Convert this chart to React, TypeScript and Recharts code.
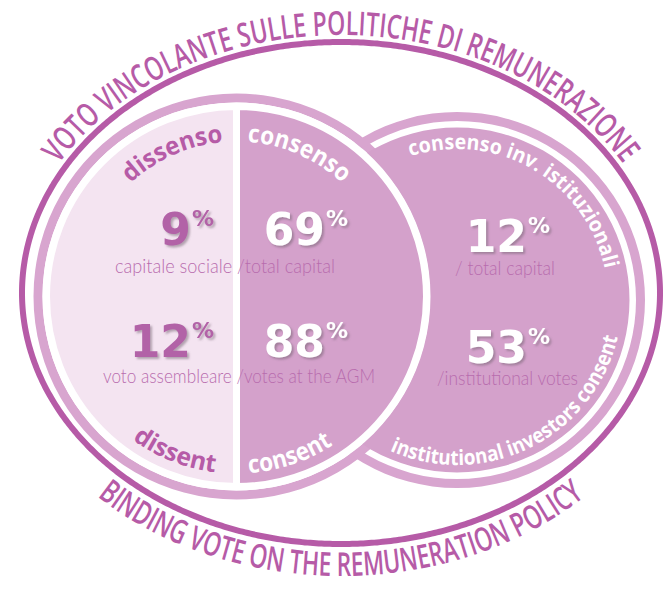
import React from "react";
import { PieChart, Pie, Cell } from "recharts";

// ---- data ----
const halves = [
  { name: "dissenso", value: 1 },
  { name: "consenso", value: 1 },
];
const whole = [{ name: "all", value: 1 }];

const dissentPct = [9, 12];
const consentPct = [69, 88];
const institutionalPct = [12, 53];
const rowLabels = ["capitale sociale /total capital", "voto assembleare /votes at the AGM"];
const institutionalLabels = ["/ total capital", "/institutional votes"];
const leftTop = ["dissenso", "consenso"];
const leftBottom = ["dissent", "consent"];
const rightTop = "consenso inv. istituzionali";
const rightBottom = "institutional investors consent";
const titleTop = "VOTO VINCOLANTE SULLE POLITICHE DI REMUNERAZIONE";
const titleBottom = "BINDING VOTE ON THE REMUNERATION POLICY";

// ---- layout ----
const W = 665;
const H = 590;
const LEFT = { cx: 236.5, cy: 296.5, r: 186.5 };
const RIGHT = { cx: 457, cy: 300, r: 172.5 };
const FRAME = { cx: 341, cy: 293, a: 319, b: 251 };

const DARK = "#b65ba7";
const RING = "#d8a5cf";
const PALE = "#f4e4f1";
const MID = "#d4a1cb";
const SUB = "#b86cae";

const numFont = "'DejaVu Sans', sans-serif";
const labelFont = "'Open Sans', sans-serif";
const subFont = "Lato, sans-serif";

type Pt = [number, number];

function ellipsePts(a: number, b: number, t0: number, t1: number, steps = 240): Pt[] {
  const pts: Pt[] = [];
  for (let i = 0; i <= steps; i++) {
    const t = ((t0 + ((t1 - t0) * i) / steps) * Math.PI) / 180;
    pts.push([FRAME.cx + a * Math.cos(t), FRAME.cy - b * Math.sin(t)]);
  }
  return pts;
}
const toPath = (pts: Pt[]) => "M" + pts.map((p) => p[0].toFixed(2) + "," + p[1].toFixed(2)).join("L");
const polyLen = (pts: Pt[]) =>
  pts.slice(1).reduce((s, p, i) => s + Math.hypot(p[0] - pts[i][0], p[1] - pts[i][1]), 0);

function arcPath(cx: number, cy: number, r: number, a0: number, a1: number) {
  const p = (a: number) => [cx + r * Math.cos((a * Math.PI) / 180), cy - r * Math.sin((a * Math.PI) / 180)];
  const [x0, y0] = p(a0);
  const [x1, y1] = p(a1);
  const large = Math.abs(a1 - a0) > 180 ? 1 : 0;
  const sweep = a1 < a0 ? 1 : 0;
  return { d: `M${x0},${y0} A${r},${r} 0 ${large} ${sweep} ${x1},${y1}`, len: (r * Math.abs(a1 - a0) * Math.PI) / 180 };
}

const curved = [
  { id: "lt0", text: leftTop[0], ...arcPath(LEFT.cx, LEFT.cy, 155, 133, 95), size: 25, fill: DARK },
  { id: "lt1", text: leftTop[1], ...arcPath(LEFT.cx, LEFT.cy, 155, 86, 47), size: 25, fill: "#fff" },
  { id: "lb0", text: leftBottom[0], ...arcPath(LEFT.cx, LEFT.cy, 177, 234, 263), size: 25, fill: DARK },
  { id: "lb1", text: leftBottom[1], ...arcPath(LEFT.cx, LEFT.cy, 177, 274, 303), size: 25, fill: "#fff" },
  { id: "rt", text: rightTop, ...arcPath(RIGHT.cx, RIGHT.cy, 151, 108, 12), size: 21, fill: "#fff" },
  { id: "rb", text: rightBottom, ...arcPath(RIGHT.cx, RIGHT.cy, 165, 246, 347), size: 21, fill: "#fff" },
];

const framePts = ellipsePts(FRAME.a, FRAME.b, 0, 360, 720);
const topPts = ellipsePts(FRAME.a + 7, FRAME.b + 7, 150, 30);
const botPts = ellipsePts(FRAME.a + 32, FRAME.b + 32, 226, 314);

// number columns: x where the digits end, baselines per row
const cols = [
  { values: dissentPct, x: 191, y: [245, 357], fill: "#b262a7" },
  { values: consentPct, x: 325, y: [245, 357], fill: "#fff" },
  { values: institutionalPct, x: 527, y: [252, 363], fill: "#fff" },
];
const PCT_W = 23;
const subLeft = [
  { x: 115, y: 273, len: 220 },
  { x: 103, y: 383, len: 272 },
];
const subRight = [
  { x: 455, y: 275, len: 100 },
  { x: 437, y: 385, len: 141 },
];

function Overlay() {
  return (
    <svg
      width={W}
      height={H}
      style={{ position: "absolute", left: 0, top: 0, pointerEvents: "none" }}
    >
      <defs>
        <filter id="numShadow" x="-20%" y="-20%" width="150%" height="150%">
          <feDropShadow dx="2" dy="2" stdDeviation="1" floodColor="#6f5f6d" floodOpacity="0.5" />
        </filter>
        {curved.map((c) => (
          <path key={c.id} id={c.id} d={c.d} fill="none" />
        ))}
        <path id="titleTop" d={toPath(topPts)} fill="none" />
        <path id="titleBottom" d={toPath(botPts)} fill="none" />
      </defs>

      <path d={toPath(framePts) + "Z"} fill="none" stroke={DARK} strokeWidth={6} />

      <text fontFamily={labelFont} fontWeight={600} fontSize={33} fill={DARK}>
        <textPath href="#titleTop" textLength={polyLen(topPts)} lengthAdjust="spacingAndGlyphs">
          {titleTop}
        </textPath>
      </text>
      <text fontFamily={labelFont} fontWeight={600} fontSize={33} fill={DARK}>
        <textPath href="#titleBottom" textLength={polyLen(botPts)} lengthAdjust="spacingAndGlyphs">
          {titleBottom}
        </textPath>
      </text>

      {curved.map((c) => (
        <text key={c.id} fontFamily={labelFont} fontWeight={700} fontSize={c.size} fill={c.fill}>
          <textPath href={`#${c.id}`} textLength={c.len} lengthAdjust="spacingAndGlyphs">
            {c.text}
          </textPath>
        </text>
      ))}

      {cols.map((col, ci) =>
        col.values.map((v, ri) => (
          <text
            key={`${ci}-${ri}`}
            x={col.x + PCT_W}
            y={col.y[ri]}
            textAnchor="end"
            filter="url(#numShadow)"
            fill={col.fill}
            fontFamily={numFont}
            fontWeight={700}
            fontSize={44}
          >
            {v}
            <tspan dx={1} dy={-19} fontSize={22}>
              %
            </tspan>
          </text>
        ))
      )}

      {rowLabels.map((t, i) => (
        <text
          key={t}
          x={subLeft[i].x}
          y={subLeft[i].y}
          fontFamily={subFont}
          fontWeight={300}
          fontSize={19}
          fill={SUB}
          textLength={subLeft[i].len}
          lengthAdjust="spacingAndGlyphs"
        >
          {t}
        </text>
      ))}
      {institutionalLabels.map((t, i) => (
        <text
          key={t}
          x={subRight[i].x}
          y={subRight[i].y}
          fontFamily={subFont}
          fontWeight={300}
          fontSize={19}
          fill={SUB}
          textLength={subRight[i].len}
          lengthAdjust="spacingAndGlyphs"
        >
          {t}
        </text>
      ))}
    </svg>
  );
}

export default function App() {
  return (
    <div style={{ position: "absolute", left: 0, top: 0, width: W, height: H, background: "#fff" }}>
      <PieChart width={W} height={H} margin={{ top: 0, right: 0, bottom: 0, left: 0 }}>
        {/* outer light rings */}
        <Pie data={whole} dataKey="value" cx={LEFT.cx} cy={LEFT.cy} innerRadius={194} outerRadius={203}
          startAngle={90} endAngle={450} fill={RING} stroke="none" isAnimationActive={false} />
        <Pie data={whole} dataKey="value" cx={RIGHT.cx} cy={RIGHT.cy} innerRadius={179} outerRadius={188}
          startAngle={90} endAngle={450} fill={RING} stroke="none" isAnimationActive={false} />
        {/* institutional investors circle */}
        <Pie data={whole} dataKey="value" cx={RIGHT.cx} cy={RIGHT.cy} innerRadius={0} outerRadius={RIGHT.r}
          startAngle={90} endAngle={450} fill={MID} stroke="none" isAnimationActive={false} />
        {/* white gap behind the left circle */}
        <Pie data={whole} dataKey="value" cx={LEFT.cx} cy={LEFT.cy} innerRadius={0} outerRadius={194}
          startAngle={90} endAngle={450} fill="#fff" stroke="none" isAnimationActive={false} />
        {/* dissent / consent halves */}
        <Pie data={halves} dataKey="value" cx={LEFT.cx} cy={LEFT.cy} innerRadius={0} outerRadius={LEFT.r + 3.5}
          startAngle={90} endAngle={450} stroke="#fff" strokeWidth={7} isAnimationActive={false}>
          <Cell fill={PALE} />
          <Cell fill={MID} />
        </Pie>
      </PieChart>
      <Overlay />
    </div>
  );
}
